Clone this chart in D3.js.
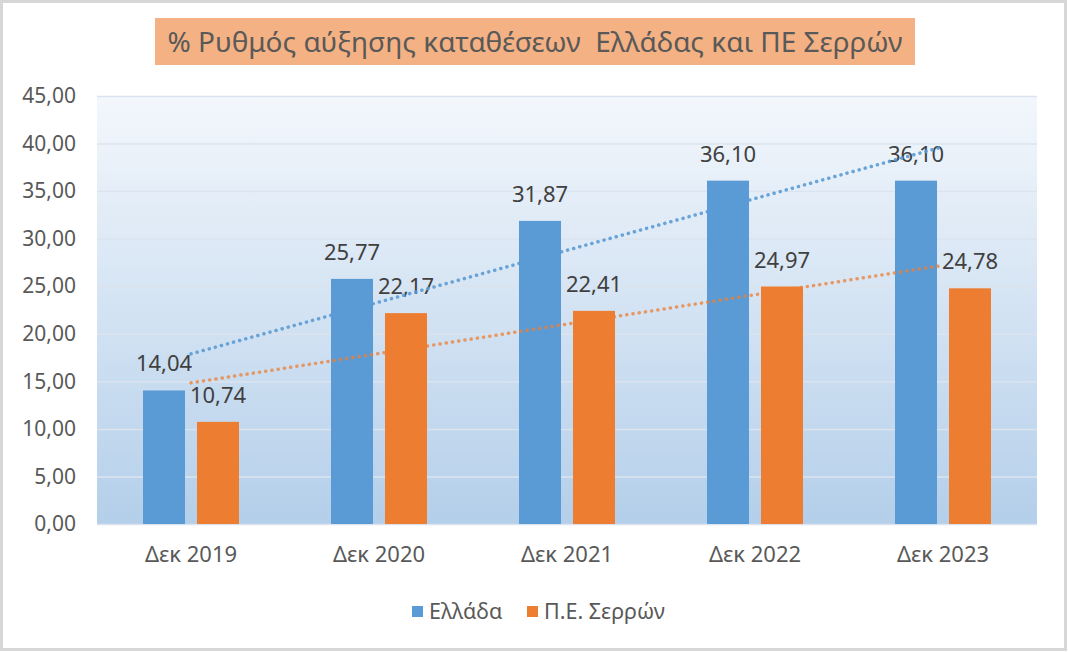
<!DOCTYPE html>
<html>
<head>
<meta charset="utf-8">
<script src="https://cdn.jsdelivr.net/npm/d3@7"></script>
<style>
  body { margin: 0; background: #fff; }
  svg { display: block; font-family: "Noto Sans", "Open Sans", sans-serif; }
</style>
</head>
<body>
<svg width="1068" height="652"></svg>
<script>
// chart data
const categories = ["Δεκ 2019", "Δεκ 2020", "Δεκ 2021", "Δεκ 2022", "Δεκ 2023"];
const seriesNames = ["Ελλάδα", "Π.Ε. Σερρών"];
const greeceValues = [14.04, 25.77, 31.87, 36.10, 36.10];
const serresValues = [10.74, 22.17, 22.41, 24.97, 24.78];
const yTickValues = [0, 5, 10, 15, 20, 25, 30, 35, 40, 45];
const titleText = "% Ρυθμός αύξησης καταθέσεων  Ελλάδας και ΠΕ Σερρών";

// layout
const width = 1068, height = 652;
const plot = { left: 97, right: 1037, top: 96, bottom: 524 };
const colors = ["#5b9bd5", "#ed7d31"];
const gradTop = "#f3f7fc", gradBottom = "#b4cfea";

const svg = d3.select("svg");

const locale = d3.formatLocale({ decimal: ",", thousands: ".", grouping: [3], currency: ["", "€"] });
const fmt = locale.format(".2f");

const series = seriesNames.map((name, i) => ({
  name: name,
  color: colors[i],
  values: i === 0 ? greeceValues : serresValues
}));

// scales
const x0 = d3.scaleBand().domain(categories).range([plot.left, plot.right]).paddingInner(0);
const groupHalf = 48;
const x1 = d3.scaleBand().domain(seriesNames)
  .range([x0.bandwidth() / 2 - groupHalf, x0.bandwidth() / 2 + groupHalf])
  .paddingInner(0.222);
const y = d3.scaleLinear().domain([0, 45]).range([plot.bottom, plot.top]);
const bgAt = d3.scaleLinear().domain([plot.top, plot.bottom]).range([gradTop, gradBottom])
  .interpolate(d3.interpolateRgb).clamp(true);

// outer frame
svg.append("rect")
  .attr("x", 1.5).attr("y", 1.5)
  .attr("width", width - 4).attr("height", height - 4)
  .attr("fill", "#fff")
  .attr("stroke", "#d6d6d6")
  .attr("stroke-width", 3);

// plot area gradient
const defs = svg.append("defs");
const grad = defs.append("linearGradient")
  .attr("id", "plotGrad")
  .attr("x1", 0).attr("y1", 0).attr("x2", 0).attr("y2", 1);
grad.append("stop").attr("offset", "0%").attr("stop-color", gradTop);
grad.append("stop").attr("offset", "100%").attr("stop-color", gradBottom);

svg.append("rect")
  .attr("x", plot.left).attr("y", plot.top)
  .attr("width", plot.right - plot.left).attr("height", plot.bottom - plot.top)
  .attr("fill", "url(#plotGrad)");

// y axis (gridlines + labels)
const yAxis = d3.axisLeft(y)
  .tickValues(yTickValues)
  .tickFormat(fmt)
  .tickSize(-(plot.right - plot.left))
  .tickPadding(21);

const yAxisGroup = svg.append("g")
  .attr("class", "axis y")
  .attr("transform", "translate(" + plot.left + ",0)")
  .call(yAxis);
yAxisGroup.select(".domain").remove();
yAxisGroup.selectAll(".tick line")
  .attr("stroke", "#dbe4ee")
  .attr("stroke-width", 1.5);
yAxisGroup.selectAll(".tick text")
  .attr("fill", "#595959")
  .attr("font-size", 21)
  .attr("font-family", "Noto Sans");

// x axis labels
const xAxis = d3.axisBottom(x0).tickSize(0).tickPadding(22);
const xAxisGroup = svg.append("g")
  .attr("class", "axis x")
  .attr("transform", "translate(0," + plot.bottom + ")")
  .call(xAxis);
xAxisGroup.select(".domain").remove();
xAxisGroup.selectAll(".tick text")
  .attr("fill", "#595959")
  .attr("font-size", 22)
  .attr("font-family", "Noto Sans");

// bars
const chart = svg.append("g").attr("class", "chart");
const groups = chart.selectAll("g.group")
  .data(categories)
  .join("g")
  .attr("class", "group")
  .attr("transform", d => "translate(" + x0(d) + ",0)");

groups.selectAll("rect")
  .data((d, i) => series.map(s => ({ name: s.name, color: s.color, value: s.values[i] })))
  .join("rect")
  .attr("x", d => x1(d.name))
  .attr("y", d => y(d.value))
  .attr("width", x1.bandwidth())
  .attr("height", d => y(0) - y(d.value))
  .attr("fill", d => d.color);

// linear trendlines (least squares over category index)
function linearFit(values) {
  const xs = values.map((v, i) => i + 1);
  const mx = d3.mean(xs), my = d3.mean(values);
  const slope = d3.sum(xs, (xv, i) => (xv - mx) * (values[i] - my)) / d3.sum(xs, xv => (xv - mx) * (xv - mx));
  return xv => my + slope * (xv - mx);
}

const catCenter = c => x0(c) + x0.bandwidth() / 2;
series.forEach((s, si) => {
  const f = linearFit(s.values);
  const pts = [categories[0], categories[categories.length - 1]]
    .map(c => [catCenter(c), y(f(categories.indexOf(c) + 1))]);
  chart.append("path")
    .attr("d", d3.line()(pts))
    .attr("fill", "none")
    .attr("stroke", s.color)
    .attr("stroke-opacity", si === 0 ? 0.9 : 0.75)
    .attr("stroke-width", 3.5)
    .attr("stroke-linecap", "round")
    .attr("stroke-dasharray", "0.1 6.2");
});

// data labels
groups.selectAll("text.value")
  .data((d, i) => series.map(s => ({ name: s.name, value: s.values[i] })))
  .join("text")
  .attr("class", "value")
  .attr("x", d => x1(d.name) + x1.bandwidth() / 2)
  .attr("y", d => y(d.value) - 19)
  .attr("text-anchor", "middle")
  .attr("font-size", 22)
  .attr("fill", "#404040")
  .attr("stroke", d => bgAt(y(d.value) - 26))
  .attr("stroke-width", 3)
  .attr("paint-order", "stroke")
  .text(d => fmt(d.value));

// title
svg.append("rect")
  .attr("x", 155).attr("y", 18)
  .attr("width", 760).attr("height", 47)
  .attr("fill", "#f4b183");
svg.append("text")
  .attr("x", 535).attr("y", 52)
  .attr("text-anchor", "middle")
  .attr("font-size", 28)
  .attr("fill", "#595959")
  .style("white-space", "pre")
  .text(titleText);

// legend
const legendItems = [
  { name: seriesNames[0], color: colors[0], x: 412 },
  { name: seriesNames[1], color: colors[1], x: 527 }
];
const legend = svg.append("g").attr("class", "legend");
legendItems.forEach(item => {
  legend.append("rect")
    .attr("x", item.x).attr("y", 606)
    .attr("width", 11).attr("height", 11)
    .attr("fill", item.color);
  legend.append("text")
    .attr("x", item.x + 17).attr("y", 619)
    .attr("font-size", 21.5)
    .attr("fill", "#595959")
    .text(item.name);
});
</script>
</body>
</html>
